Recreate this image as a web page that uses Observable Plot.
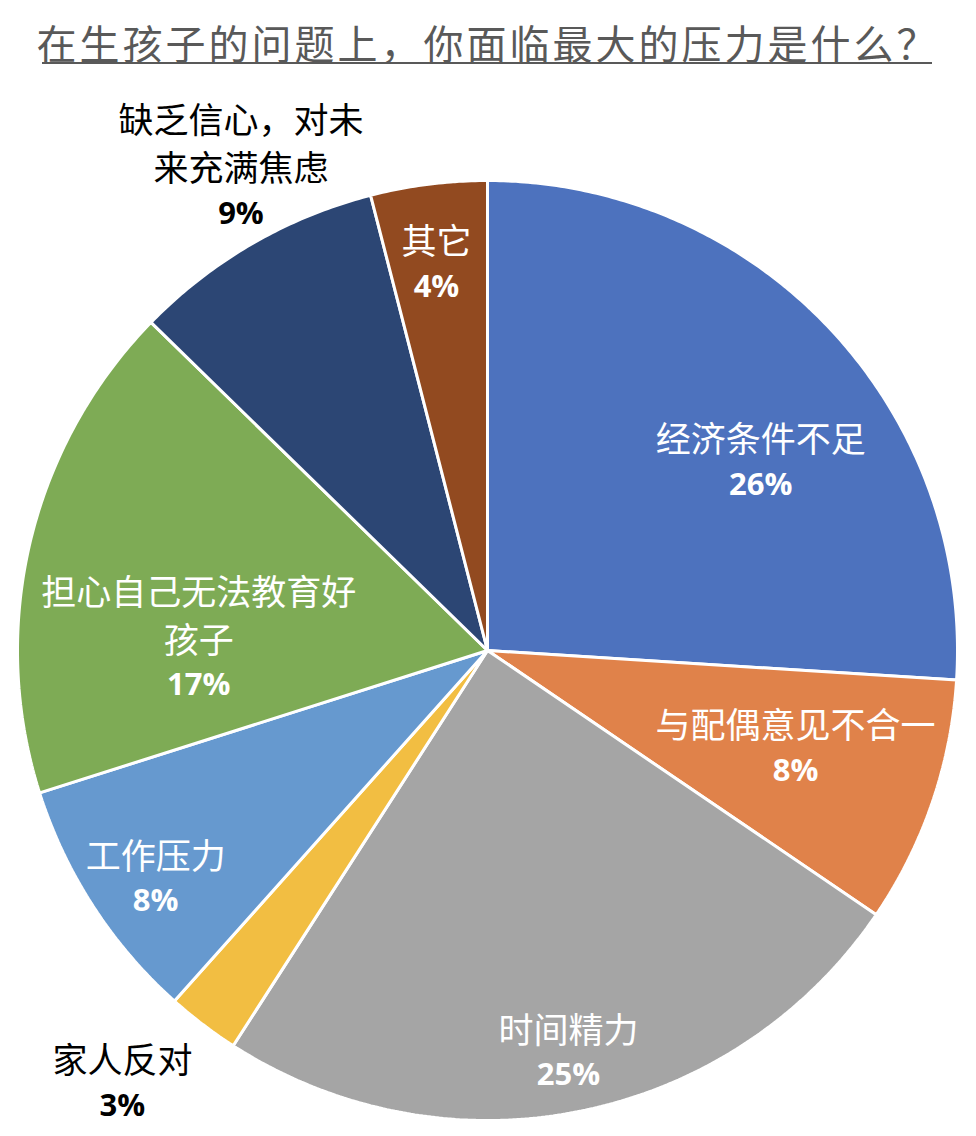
<!DOCTYPE html>
<html>
<head>
<meta charset="utf-8">
<script src="https://cdn.jsdelivr.net/npm/d3@7"></script>
<script src="https://cdn.jsdelivr.net/npm/@observablehq/plot@0.6"></script>
<style>
  body { margin: 0; background: #fff; }
  #title { height: 80px; width: 976px; position: relative; }
  #title span { position: absolute; left: 0; right: 0; top: 22px; height: 40px; text-align: center; font-family: "Noto Sans CJK SC", sans-serif; font-size: 40px; line-height: 40px; color: #595959; letter-spacing: 3px; white-space: nowrap; }
  #title div { position: absolute; left: 42px; width: 890px; top: 62px; height: 2px; background: #595959; }
</style>
</head>
<body>
<div id="title"><span>在生孩子的问题上，你面临最大的压力是什么？</span><div></div></div>
<div id="chart"></div>
<script>
// ---- data ----
const categories = ["经济条件不足", "与配偶意见不合一", "时间精力", "家人反对", "工作压力", "担心自己无法教育好孩子", "缺乏信心，对未来充满焦虑", "其它"];
const shares = [26.0, 8.5, 24.6, 2.5, 8.5, 17.2, 8.7, 4.0];
const pctLabels = ["26%", "8%", "25%", "3%", "8%", "17%", "9%", "4%"];
const labelLines = ["经济条件不足", "与配偶意见不合一", "时间精力", "家人反对", "工作压力", "担心自己无法教育好\n孩子", "缺乏信心，对未\n来充满焦虑", "其它"];

// ---- style / layout ----
const colors = ["#4D72BE", "#E0824A", "#A5A5A5", "#F2BE42", "#6699CF", "#7EAB55", "#2C4674", "#924A20"];
const labelRadius = [0.708, 0.687, 0.870, 1.202, 0.855, 0.615, 1.157, 0.832];
const labelShiftDeg = [8.4, -1.5, 0.1, 3.0, -1.4, -10.7, 3.1, -0.3];
const labelInside = [true, true, true, false, true, true, false, true];

const W = 976, H = 1056, R = 470, CX = 487, CY = 570;

const pie = d3.pie().sort(null).value(d => d)(shares);

// slice outlines (data units, radius 1)
const slicePts = [];
pie.forEach((p, i) => {
  slicePts.push({cat: categories[i], x: 0, y: 0});
  const n = Math.max(8, Math.ceil((p.endAngle - p.startAngle) / (Math.PI / 360)));
  for (let k = 0; k <= n; k++) {
    const a = p.startAngle + (p.endAngle - p.startAngle) * k / n;
    slicePts.push({cat: categories[i], x: Math.sin(a), y: Math.cos(a)});
  }
});

// label anchors
const labels = pie.map((p, i) => {
  const a = (p.startAngle + p.endAngle) / 2 + labelShiftDeg[i] * Math.PI / 180;
  const r = labelRadius[i];
  const nLines = labelLines[i].split("\n").length;
  return {
    cat: categories[i], name: labelLines[i], pct: pctLabels[i],
    x: r * Math.sin(a), y: r * Math.cos(a),
    nLines, color: labelInside[i] ? "white" : "black"
  };
});

const LH = 48;

const chart = Plot.plot({
  width: W, height: H,
  marginTop: 0, marginRight: 0, marginBottom: 0, marginLeft: 0,
  x: {domain: [-CX / R, (W - CX) / R], axis: null},
  y: {domain: [-(H - CY) / R, CY / R], axis: null},
  color: {domain: categories, range: colors},
  marks: [
    Plot.line(slicePts, {x: "x", y: "y", z: "cat", fill: "cat", stroke: "white", strokeWidth: 3, strokeLinejoin: "miter", curve: "linear-closed"}),
    ...labels.map(l => Plot.text([l], {
      x: "x", y: "y", text: "name", fill: l.color,
      dy: -LH / 2, lineAnchor: "middle", lineHeight: LH / 35,
      fontSize: 35, fontFamily: "Noto Sans CJK SC", textAnchor: "middle"
    })),
    ...labels.map(l => Plot.text([l], {
      x: "x", y: "y", text: "pct", fill: l.color,
      dy: l.nLines * LH / 2, lineAnchor: "middle",
      fontSize: 31, fontWeight: "bold", fontFamily: "Open Sans", textAnchor: "middle"
    }))
  ]
});
document.getElementById("chart").appendChild(chart);
</script>
</body>
</html>
